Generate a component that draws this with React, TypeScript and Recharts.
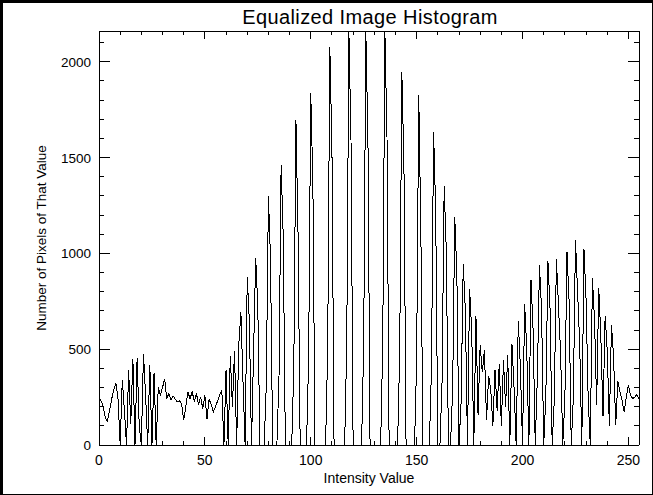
import { Label, Line, LineChart, ReferenceLine, XAxis, YAxis } from "recharts"

// pixel counts per intensity level (0..255)
const counts = [
  245, 230, 200, 140, 125, 180, 240, 290, 320, 240, 0, 340, 180, 0, 390, 110,
  450, 0, 455, 100, 0, 477, 260, 0, 418, 0, 378, 0, 303, 261, 300, 346,
  242, 270, 235, 255, 240, 225, 230, 215, 130, 200, 277, 240, 280, 225, 270, 210,
  250, 190, 260, 137, 240, 210, 172, 200, 230, 260, 287, 0, 392, 0, 465, 200,
  490, 0, 520, 694, 330, 0, 877, 650, 0, 486, 978, 720, 0, 0, 0, 313,
  1300, 966, 0, 0, 0, 355, 1462, 1086, 0, 0, 0, 0, 407, 1695, 1100, 0,
  0, 0, 0, 451, 1835, 1365, 0, 0, 0, 0, 0, 0, 503, 2078, 1547, 0,
  0, 0, 0, 0, 0, 529, 2160, 1593, 0, 0, 0, 0, 0, 529, 2160, 1600,
  0, 0, 0, 0, 0, 0, 529, 2160, 1608, 0, 0, 0, 0, 0, 477, 1948,
  1462, 0, 0, 0, 0, 0, 444, 1826, 1100, 0, 0, 0, 0, 397, 1634, 1217,
  0, 0, 329, 1352, 1013, 0, 0, 287, 1190, 888, 0, 225, 943, 705, 0, 813,
  600, 0, 674, 157, 524, 380, 494, 130, 360, 290, 100, 392, 180, 425, 100, 443,
  200, 470, 0, 529, 300, 0, 647, 400, 0, 738, 500, 0, 861, 600, 0, 350,
  939, 700, 0, 250, 960, 712, 0, 235, 970, 720, 475, 0, 240, 1008, 747, 0,
  245, 1072, 800, 528, 0, 1025, 764, 240, 0, 872, 653, 209, 820, 560, 150, 674,
  494, 100, 625, 460, 104, 334, 280, 233, 172, 250, 312, 260, 242, 250, 263, 240,
]

const xTicks = [
  0, 10, 20, 30, 40, 50, 60, 70, 80, 90, 100, 110, 120, 130, 140, 150, 160, 170,
  180, 190, 200, 210, 220, 230, 240, 250,
]
const yTicks = [
  0, 100, 200, 300, 400, 500, 600, 700, 800, 900, 1000, 1100, 1200, 1300, 1400,
  1500, 1600, 1700, 1800, 1900, 2000, 2100,
]

const X_MAX = 255
const Y_MAX = 2160

const data = counts.map((count, bin) => ({ bin, count }))

const W = 653
const H = 495
const PLOT_LEFT = 99
const PLOT_RIGHT = 639
const PLOT_TOP = 31
const PLOT_BOTTOM = 445
const Y_AXIS_W = 68
const X_AXIS_H = 38

const FONT = "'Liberation Sans', Arial, sans-serif"

function XTick(props: any) {
  const { x, payload } = props
  const major = payload.value % 50 === 0
  const len = major ? 8 : 4
  return (
    <g>
      <line x1={x} x2={x} y1={PLOT_BOTTOM} y2={PLOT_BOTTOM - len} stroke="#000" shapeRendering="crispEdges" />
      <line x1={x} x2={x} y1={PLOT_TOP} y2={PLOT_TOP + len} stroke="#000" shapeRendering="crispEdges" />
      {major && (
        <text x={x} y={PLOT_BOTTOM + 20} textAnchor="middle" fontSize={14} fontFamily={FONT} fill="#000">
          {payload.value}
        </text>
      )}
    </g>
  )
}

function YTick(props: any) {
  const { y, payload } = props
  const major = payload.value % 500 === 0
  const len = major ? 11 : 5
  return (
    <g>
      <line x1={PLOT_LEFT} x2={PLOT_LEFT + len} y1={y} y2={y} stroke="#000" shapeRendering="crispEdges" />
      <line x1={PLOT_RIGHT} x2={PLOT_RIGHT - len} y1={y} y2={y} stroke="#000" shapeRendering="crispEdges" />
      {major && (
        <text x={PLOT_LEFT - 8} y={y} dy={5} textAnchor="end" fontSize={13.5} fontFamily={FONT} fill="#000">
          {payload.value}
        </text>
      )}
    </g>
  )
}

export default function App() {
  return (
    <div style={{ position: "fixed", left: 0, top: 0, width: W, height: H, background: "#fff" }}>
      <style>{`.recharts-line-curve { shape-rendering: crispEdges; }`}</style>
      <LineChart
        width={W}
        height={H}
        data={data}
        margin={{
          top: PLOT_TOP,
          right: W - PLOT_RIGHT,
          left: PLOT_LEFT - Y_AXIS_W,
          bottom: H - PLOT_BOTTOM - X_AXIS_H,
        }}
      >
        <XAxis
          dataKey="bin"
          type="number"
          domain={[0, X_MAX]}
          ticks={xTicks}
          interval={0}
          tickLine={false}
          tick={<XTick />}
          axisLine={{ stroke: "#000", shapeRendering: "crispEdges" }}
          height={X_AXIS_H}
          allowDataOverflow
        >
          <Label value="Intensity Value" position="insideBottom" offset={0} fontSize={14} fontFamily={FONT} fill="#000" />
        </XAxis>
        <YAxis
          type="number"
          domain={[0, Y_MAX]}
          ticks={yTicks}
          interval={0}
          tickLine={false}
          tick={<YTick />}
          axisLine={{ stroke: "#000", shapeRendering: "crispEdges" }}
          width={Y_AXIS_W}
          allowDataOverflow
        >
          <Label
            value="Number of Pixels of That Value"
            angle={-90}
            position="insideLeft"
            offset={10}
            style={{ textAnchor: "middle" }}
            fontSize={13.5}
            fontFamily={FONT}
            fill="#000"
          />
        </YAxis>
        <ReferenceLine y={Y_MAX} stroke="#000" shapeRendering="crispEdges" />
        <ReferenceLine x={X_MAX} stroke="#000" shapeRendering="crispEdges" />
        <Line
          type="linear"
          dataKey="count"
          stroke="#000"
          strokeWidth={1}
          dot={false}
          isAnimationActive={false}
        />
      </LineChart>
      <svg
        width={W}
        height={H}
        style={{ position: "absolute", left: 0, top: 0, pointerEvents: "none" }}
      >
        <text x={370} y={24} textAnchor="middle" fontSize={20} letterSpacing={0.4} fontFamily={FONT} fill="#000">
          Equalized Image Histogram
        </text>
      </svg>
      <div
        style={{
          position: "absolute",
          left: 0,
          top: 0,
          width: W,
          height: H,
          boxSizing: "border-box",
          borderTop: "3px solid #000",
          borderLeft: "3px solid #000",
          borderRight: "1px solid #000",
          borderBottom: "1px solid #000",
          pointerEvents: "none",
        }}
      />
    </div>
  )
}
